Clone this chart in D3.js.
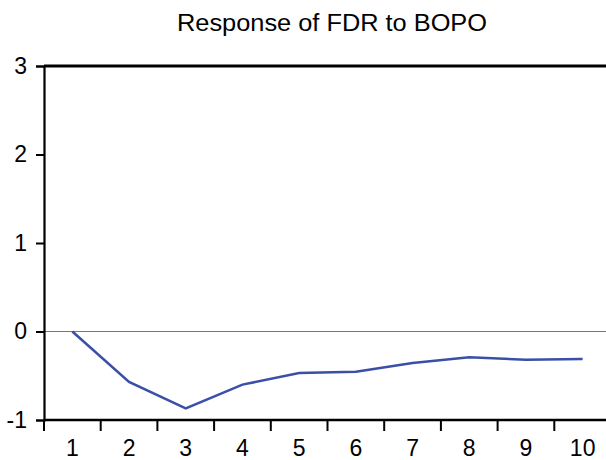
<!DOCTYPE html>
<html>
<head>
<meta charset="utf-8">
<script src="https://cdn.jsdelivr.net/npm/d3@7"></script>
<style>
  body { margin: 0; background: #fff; }
  svg { display: block; }
  svg text { font-family: Arial, "Liberation Sans", sans-serif; fill: #000; }
</style>
</head>
<body>
<div id="chart"></div>
<script>
// 数据
const periods = [1, 2, 3, 4, 5, 6, 7, 8, 9, 10];
const response = [0.0, -0.57, -0.87, -0.60, -0.47, -0.455, -0.355, -0.29, -0.32, -0.31];
const yTicks = [-1, 0, 1, 2, 3];
const title = "Response of FDR to BOPO";

const width = 606, height = 460;
const margin = { top: 66, left: 44, bottom: 40 };

const svg = d3.select("#chart").append("svg")
    .attr("width", width)
    .attr("height", height);

// x: 分类带宽 ~56.7px, 右边超出画布
const x = d3.scaleBand()
    .domain(periods)
    .range([margin.left, margin.left + 56.7 * periods.length])
    .padding(0);

const y = d3.scaleLinear()
    .domain([-1, 3])
    .range([height - margin.bottom, margin.top]);

// 零线
svg.append("line")
    .attr("x1", margin.left).attr("x2", width)
    .attr("y1", y(0)).attr("y2", y(0))
    .attr("stroke", "#777")
    .attr("stroke-width", 1.2);

// 折线
const line = d3.line()
    .x(d => x(d.p) + x.bandwidth() / 2)
    .y(d => y(d.v));

svg.append("path")
    .datum(periods.map((p, i) => ({ p, v: response[i] })))
    .attr("fill", "none")
    .attr("stroke", "#3a4fa8")
    .attr("stroke-width", 2.5)
    .attr("d", line);

// 上边框
svg.append("line")
    .attr("x1", margin.left).attr("x2", width)
    .attr("y1", y(3)).attr("y2", y(3))
    .attr("stroke", "#000")
    .attr("stroke-width", 3);

// Y轴
const yAxis = svg.append("g")
    .attr("transform", `translate(${margin.left},0)`)
    .call(d3.axisLeft(y).tickValues(yTicks).tickFormat(d => String(d)).tickSize(8).tickPadding(9));
yAxis.attr("font-family", null).attr("font-size", null);
yAxis.select(".domain").attr("stroke-width", 2.2);
yAxis.selectAll(".tick line").attr("stroke-width", 2);
yAxis.selectAll("text").style("font-size", "23px");

// X轴：刻度在分类边界，标签在中间
const xTickPos = periods.map(p => x(p));
const xAxis = svg.append("g")
    .attr("transform", `translate(0,${y(-1)})`);
xAxis.append("line")
    .attr("x1", margin.left).attr("x2", width)
    .attr("stroke", "#000").attr("stroke-width", 2.6);
xAxis.selectAll(".xt")
    .data(xTickPos)
    .enter().append("line")
    .attr("class", "xt")
    .attr("x1", d => d).attr("x2", d => d)
    .attr("y1", 0).attr("y2", 11)
    .attr("stroke", "#000").attr("stroke-width", 2);
xAxis.selectAll(".xl")
    .data(periods)
    .enter().append("text")
    .attr("class", "xl")
    .attr("x", d => x(d) + x.bandwidth() / 2)
    .attr("y", 36)
    .attr("text-anchor", "middle")
    .style("font-size", "23px")
    .text(d => d);

// 标题
svg.append("text")
    .attr("x", 177)
    .attr("y", 31)
    .attr("textLength", 310)
    .attr("lengthAdjust", "spacingAndGlyphs")
    .style("font-size", "23px")
    .text(title);
</script>
</body>
</html>
